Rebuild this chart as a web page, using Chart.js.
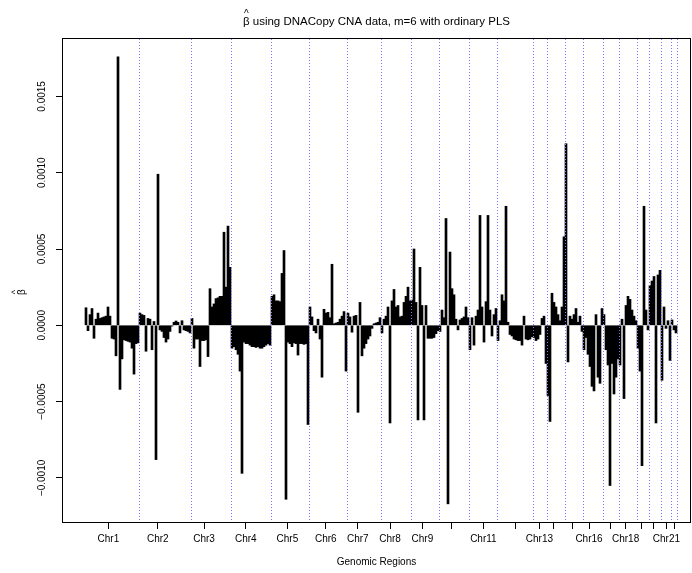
<!DOCTYPE html>
<html>
<head>
<meta charset="utf-8">
<script src="https://cdn.jsdelivr.net/npm/chart.js@4.4.1/dist/chart.umd.min.js"></script>
<style>
  html, body { margin: 0; padding: 0; background: #fff; }
</style>
</head>
<body>
<canvas id="betaChart" width="692" height="573"></canvas>
<script>
// PLS coefficients along the genome, one array per chromosome (units of 1e-4)
const UNIT = 1e-4;
const chr1 = [1.15, -0.35, 0.7, 1.1, -0.85, 0.4, 0.8, 0.45, 0.5, 0.55, 0.6, 1.2, 0.6, -0.85, -0.9, -2.0, 17.6, -4.2, -2.2, -0.95, -1.0, -1.05, -1.1, -1.5, -3.2, -1.2, -1.15];
const chr2 = [0.8, 0.7, 0.65, -1.7, 0.45, 0.4, -1.6, 0.25, -8.8, 9.9, -0.3, -0.4, -0.8, -1.1, -0.9, -0.4, -0.05, 0.2, 0.28, 0.2, -0.5, 0.3, -0.3, -0.35, -0.4, -0.5];
const chr3 = [0.45, -1.5, -0.9, -0.9, -2.7, -1.0, -1.0, -0.95, -2.05, 2.4, 1.2, 1.4, 1.75, 1.8, 1.9, 1.9, 6.1, 2.5, 6.5, 3.8];
const chr4 = [-1.5, -1.4, -1.6, -1.9, -3.0, -9.7, -1.1, -1.2, -1.2, -1.3, -1.4, -1.4, -1.45, -1.4, -1.5, -1.5, -1.4, -1.3, -1.2, -1.3];
const chr5 = [1.9, 2.0, 1.6, 1.6, 1.55, 3.4, 4.9, -11.4, -1.1, -1.2, -1.4, -1.15, -1.2, -1.95, -1.2, -1.2, -1.25, -1.2, -6.5];
const chr6 = [1.2, 0.55, -0.35, -0.5, 0.4, -0.9, -3.4, 1.05, 0.8, 0.85, 0.5, 4.0, 0.1, 0.15, 0.2, 0.4, 0.6, 0.9, -3.0];
const chr7 = [0.8, 0.55, -0.45, 0.6, 0.65, -5.7, 1.5, -2.0, -1.5, -1.2, -0.9, -0.7, -0.2, 0.1, 0.15, 0.2, 0.5];
const chr8 = [-0.5, 0.4, 0.6, 1.2, -6.4, 1.6, 2.35, 1.2, 1.3, 0.55, 0.6, 1.5, 1.9, 2.5, 1.6];
const chr9 = [1.65, 5.0, 1.5, -6.2, 3.8, 1.3, -6.2, 1.3, -0.85, -0.85, -0.85, -0.8, -0.55, -0.35];
const chr10 = [-0.4, 1.0, 0.5, 7.0, -11.7, 4.8, 2.4, 2.0, 0.4, -0.3, 0.35, 0.45, 0.55, 1.2, 0.5];
const chr11 = [-1.6, 0.5, -1.3, 0.6, 1.0, 7.2, 1.2, -1.1, 1.55, 7.2, 1.0, -0.7, 0.7, 1.1];
const chr12 = [-1.0, 0.3, 2.0, 1.6, 7.8, 0.2, -0.6, -0.7, -0.9, -0.95, -1.0, -1.0, -1.3, 0.6, -0.9, -0.95, -0.9, -0.75];
const chr13 = [-0.8, -1.0, -0.9, -0.6, 0.45, 0.6, -2.5];
const chr14 = [-4.6, -6.3, 2.1, 1.5, 1.2, 0.7, 0.3, 1.2, 5.8];
const chr15 = [11.9, -2.4, 0.6, 0.4, 0.7, 1.1, 0.2, 0.6, -0.4];
const chr16 = [-1.6, -0.8, -1.9, -2.7, -4.0, -4.3, 0.7, -3.4, -3.8, 1.1];
const chr17 = [0.7, -1.6, -2.6, -10.5, -2.5, -4.5, -3.4, -2.2];
const chr18 = [-2.6, 0.4, -4.8, 1.3, 1.9, 1.7, 1.0, 0.6, 0.3];
const chr19 = [-1.5, -3.0, -9.2, 7.8, 1.0, -0.3];
const chr20 = [2.6, 2.9, 3.2, -6.4, 3.3, 3.6];
const chr21 = [-3.6, 1.2, -0.2, 0.3, -2.3];
const chr22 = [0.35, -0.3, -0.5];

const chromosomes = [chr1, chr2, chr3, chr4, chr5, chr6, chr7, chr8, chr9, chr10, chr11,
  chr12, chr13, chr14, chr15, chr16, chr17, chr18, chr19, chr20, chr21, chr22];

// axis ticks (genome index) and the labels that fit under them
const tickPos = [11.2, 35.9, 59, 79.9, 100.7, 119.9, 135.9, 152, 168.2, 182.5, 198.7,
  214.9, 226.7, 233.5, 243.3, 251.5, 262.2, 269.8, 277.8, 283.7, 290.2, 294];
const tickLabels = ['Chr1', 'Chr2', 'Chr3', 'Chr4', 'Chr5', 'Chr6', 'Chr7', 'Chr8', 'Chr9', '', 'Chr11',
  '', 'Chr13', '', '', 'Chr16', '', 'Chr18', '', '', 'Chr21', ''];
const yTicks = [-0.001, -0.0005, 0, 0.0005, 0.001, 0.0015];

// flatten to one series; remember where each chromosome ends
const points = [];
const chrEnds = [];
chromosomes.forEach(function(vals) {
    vals.forEach(function(v) {
        points.push({ x: points.length, y: v * UNIT });
    });
    chrEnds.push(points.length - 0.5);
});

const FONT = "'Liberation Sans', Arial, Helvetica, sans-serif";

// beta with a hat, drawn as two glyphs so the hat sits centred above
function drawBetaHat(ctx, x, y, size) {
    ctx.font = size + 'px ' + FONT;
    ctx.textAlign = 'left';
    ctx.fillText('\u03B2', x, y);
    const w = ctx.measureText('\u03B2').width;
    ctx.font = Math.round(size * 0.9) + 'px ' + FONT;
    ctx.textAlign = 'center';
    ctx.fillText('^', x + w / 2, y - size * 0.72);
    return w;
}

const decorations = {
    id: 'decorations',
    afterDatasetsDraw(chart) {
        // dotted blue separators at chromosome ends
        const ctx = chart.ctx;
        const area = chart.chartArea;
        const xs = chart.scales.x;
        ctx.save();
        ctx.strokeStyle = 'rgb(120, 120, 255)';
        ctx.lineWidth = 1;
        ctx.setLineDash([1, 2]);
        chrEnds.forEach(function(b) {
            const x = Math.round(xs.getPixelForValue(b)) + 0.5;
            ctx.beginPath();
            ctx.moveTo(x, area.top + 1);
            ctx.lineTo(x, area.bottom - 1);
            ctx.stroke();
        });
        ctx.restore();
    },
    afterDraw(chart) {
        const ctx = chart.ctx;
        const area = chart.chartArea;
        const ys = chart.scales.y;
        const mid = (area.left + area.right) / 2;

        ctx.save();
        ctx.strokeStyle = '#000';
        ctx.lineWidth = 1;
        ctx.strokeRect(area.left + 0.5, area.top + 0.5, area.right - area.left - 1, area.bottom - area.top - 1);

        ctx.fillStyle = '#000';
        ctx.textBaseline = 'alphabetic';

        // main title
        const titleRest = ' using DNACopy CNA data, m=6 with ordinary PLS';
        ctx.font = '11.5px ' + FONT;
        const betaW = ctx.measureText('\u03B2').width;
        const total = betaW + ctx.measureText(titleRest).width;
        const x0 = mid - total / 2;
        drawBetaHat(ctx, x0, 25, 11.5);
        ctx.font = '11.5px ' + FONT;
        ctx.textAlign = 'left';
        ctx.fillText(titleRest, x0 + betaW, 25);

        // y tick labels, rotated like the axis
        ctx.textAlign = 'center';
        ctx.textBaseline = 'middle';
        ctx.font = '10px ' + FONT;
        yTicks.forEach(function(v) {
            const label = v.toFixed(4).replace('-', '\u2212');
            ctx.save();
            ctx.translate(42, ys.getPixelForValue(v));
            ctx.rotate(-Math.PI / 2);
            ctx.fillText(label, 0, 0);
            ctx.restore();
        });

        // y axis title
        ctx.save();
        ctx.translate(25, 292);
        ctx.rotate(-Math.PI / 2);
        ctx.textBaseline = 'alphabetic';
        drawBetaHat(ctx, -3, 0, 10);
        ctx.restore();

        ctx.textAlign = 'center';
        ctx.textBaseline = 'middle';
        ctx.font = '10px ' + FONT;
        ctx.fillText('Genomic Regions', mid, 562);
        ctx.restore();
    }
};

const ctx = document.getElementById('betaChart').getContext('2d');
const betaChart = new Chart(ctx, {
    type: 'bar',
    data: {
        datasets: [{
            label: 'beta',
            data: points,
            backgroundColor: '#000',
            borderWidth: 0,
            barPercentage: 1,
            categoryPercentage: 1
        }]
    },
    options: {
        responsive: false,
        devicePixelRatio: 1,
        animation: false,
        layout: { padding: { top: 38, right: 1, left: 0, bottom: 0 } },
        scales: {
            x: {
                type: 'linear',
                min: -12,
                max: 302.5,
                offset: false,
                grid: { display: true, drawOnChartArea: false, drawTicks: true, tickLength: 6, color: '#000', offset: false },
                border: { display: false },
                ticks: {
                    autoSkip: false,
                    maxRotation: 0,
                    minRotation: 0,
                    padding: 4,
                    color: '#000',
                    font: { family: FONT, size: 10 },
                    callback: function(value, index) { return tickLabels[index]; }
                },
                afterBuildTicks: function(scale) {
                    scale.ticks = tickPos.map(function(v) { return { value: v }; });
                },
                afterFit: function(scale) { scale.height = 50; }
            },
            y: {
                type: 'linear',
                min: -0.0012955,
                max: 0.0018827,
                grid: { display: true, drawOnChartArea: false, drawTicks: true, tickLength: 6, color: '#000' },
                border: { display: false },
                ticks: { display: false },
                afterBuildTicks: function(scale) {
                    scale.ticks = yTicks.map(function(v) { return { value: v }; });
                },
                afterFit: function(scale) { scale.width = 62; }
            }
        },
        plugins: {
            legend: { display: false },
            tooltip: { enabled: false }
        }
    },
    plugins: [decorations]
});
</script>
</body>
</html>
